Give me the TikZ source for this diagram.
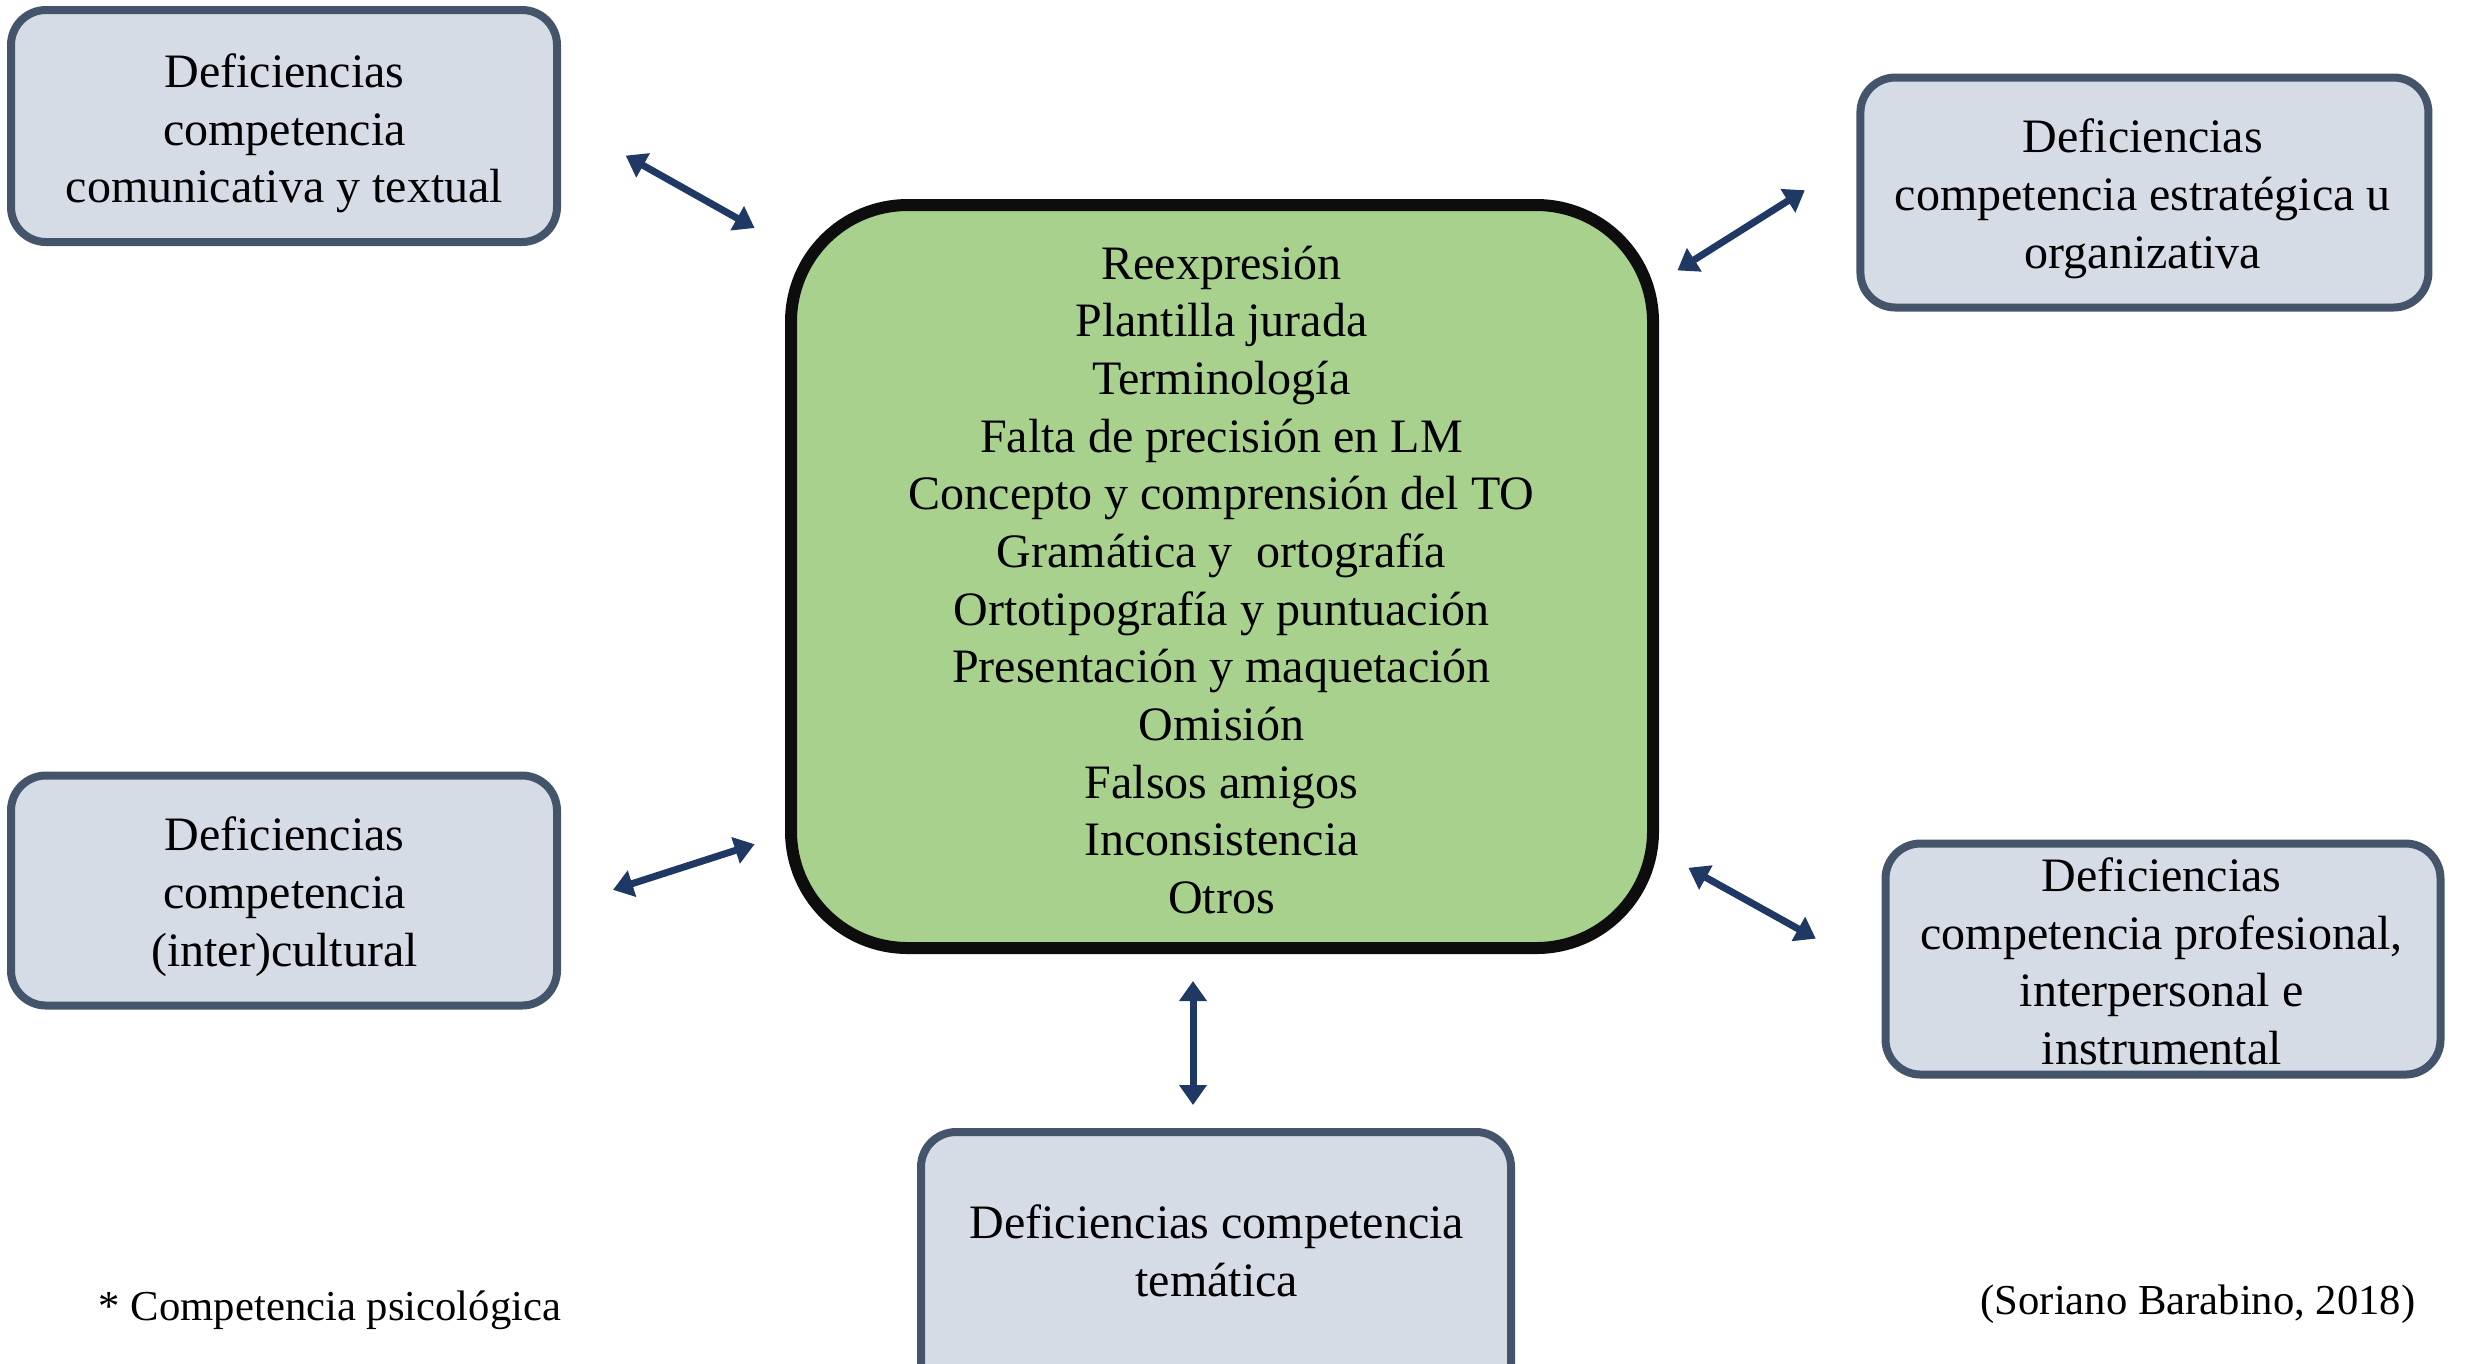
\documentclass[tikz,border=0pt]{standalone}
\usepackage{fontspec}
\setmainfont{Liberation Serif}
\usetikzlibrary{arrows.meta}
\definecolor{boxfill}{HTML}{D6DCE5}
\definecolor{boxline}{HTML}{44546A}
\definecolor{mainfill}{HTML}{A9D18E}
\definecolor{arrowcol}{HTML}{1F3864}
\tikzset{
  compbox/.style={draw=boxline, fill=boxfill, line width=2.4pt, rounded corners=10.5pt,
    inner sep=0pt},
  mainbox/.style={draw=black!95, fill=mainfill, line width=3.6pt, rounded corners=35pt,
    inner sep=0pt},
  boxtext/.style={align=center, inner sep=0pt, font=\fontsize{14.4}{17.3}\selectfont},
  link/.style={draw=arrowcol, line width=2.1pt, {Triangle[length=6pt,width=8pt]}-{Triangle[length=6pt,width=8pt]}},
  note/.style={font=\fontsize{12.8}{15}\selectfont, inner sep=0pt}
}
\begin{document}
\begin{tikzpicture}[x=0.3pt,y=-0.3pt]
\useasboundingbox (0,0) rectangle (2465,1363);
\clip (0,0) rectangle (2465,1363);
\node[mainbox, minimum width=258.6pt, minimum height=222.9pt] (main) at (1222,576.5) {};
\node[boxtext] (maintext) at (1221.5,580)
  {Reexpresión\\Plantilla jurada\\Terminología\\Falta de precisión en LM\\Concepto y comprensión del TO\\Gramática y\ \ ortografía\\Ortotipografía y puntuación\\Presentación y maquetación\\Omisión\\Falsos amigos\\Inconsistencia\\Otros};
\node[compbox, minimum width=163.8pt, minimum height=69.6pt] (com) at (284,126) {};
\node[boxtext] (comtext) at (284.5,133.3) {Deficiencias\\competencia\\comunicativa y textual};
\node[compbox, minimum width=170.4pt, minimum height=69pt] (est) at (2144.4,192.5) {};
\node[boxtext] (esttext) at (2142.8,198.8) {Deficiencias\\competencia estratégica u\\organizativa};
\node[compbox, minimum width=163.8pt, minimum height=69pt] (cul) at (284,890.5) {};
\node[boxtext] (cultext) at (284.5,896.8) {Deficiencias\\competencia\\(inter)cultural};
\node[compbox, minimum width=166.5pt, minimum height=69.3pt] (pro) at (2163,959) {};
\node[boxtext] (protext) at (2161.6,961.4) {Deficiencias\\competencia profesional,\\interpersonal e\\instrumental};
\node[compbox, minimum width=177pt, minimum height=81pt] (tem) at (1216,1267) {};
\node[boxtext] (temtext) at (1216.8,1250.6) {Deficiencias competencia\\temática};
\node[note] (psi) at (330,1310) {* Competencia psicológica};
\node[note] (src) at (2198,1304) {(Soriano Barabino, 2018)};
\coordinate (a1s) at (625.7,155.6);
\coordinate (a1e) at (754.6,228);
\coordinate (a2s) at (1677.4,270.4);
\coordinate (a2e) at (1804.8,190.2);
\coordinate (a3s) at (613,889.8);
\coordinate (a3e) at (754.6,844.2);
\coordinate (a4s) at (1688.4,867.8);
\coordinate (a4e) at (1815.8,938.6);
\coordinate (a5s) at (1193,981);
\coordinate (a5e) at (1193,1105);
\draw[link] (a1s) -- (a1e);
\draw[link] (a2s) -- (a2e);
\draw[link] (a3s) -- (a3e);
\draw[link] (a4s) -- (a4e);
\draw[link] (a5s) -- (a5e);
\end{tikzpicture}
\end{document}
